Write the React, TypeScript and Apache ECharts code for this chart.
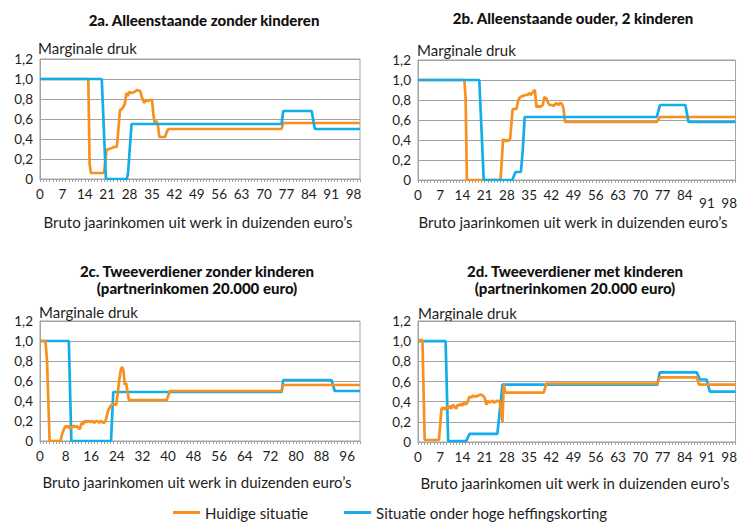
import React, { useEffect, useRef } from 'react';
import * as echarts from 'echarts';

const ORANGE = '#F7901E';
const BLUE = '#13AEEA';
const GRID_COLOR = '#a3a3a3';
const TEXT_COLOR = '#1e1e1e';
const FONT = 'Lato, "Open Sans", sans-serif';

const SERIES_NAMES = ['Huidige situatie', 'Situatie onder hoge heffingskorting'];
const PANEL_TITLES = [
  '2a. Alleenstaande zonder kinderen',
  '2b. Alleenstaande ouder, 2 kinderen',
  '2c. Tweeverdiener zonder kinderen\n(partnerinkomen 20.000 euro)',
  '2d. Tweeverdiener met kinderen\n(partnerinkomen 20.000 euro)',
];
const Y_NAME = 'Marginale druk';
const X_NAME = 'Bruto jaarinkomen uit werk in duizenden euro’s';
const X_INTERVALS = [7, 7, 8, 7];

// 2a. Alleenstaande zonder kinderen
const huidigA: number[][] = [
  [0, 1.0], [15.1, 1.0], [15.5, 0.15], [15.9, 0.06], [20, 0.06], [20.8, 0.29], [21.5, 0.3], [22.6, 0.31],
  [23, 0.32], [24, 0.32], [24.5, 0.5], [25, 0.69], [25.6, 0.7], [26, 0.72], [26.5, 0.75], [27, 0.86],
  [27.4, 0.83], [27.8, 0.87], [28.5, 0.86], [29.5, 0.87], [30.3, 0.89], [31.3, 0.88], [31.8, 0.82],
  [32.2, 0.79], [32.6, 0.76], [33, 0.79], [33.6, 0.78], [34.3, 0.79], [35, 0.79], [35.4, 0.66],
  [35.8, 0.56], [36.3, 0.58], [36.8, 0.55], [37.3, 0.42], [39.1, 0.42], [39.6, 0.47], [40.1, 0.5],
  [75.5, 0.5], [76, 0.56], [100, 0.56],
];
const heffingA: number[][] = [
  [0, 1.0], [19.3, 1.0], [20.6, 0], [27.1, 0], [27.5, 0.05], [28.6, 0.55], [75.5, 0.55], [76, 0.68],
  [84.9, 0.68], [85.9, 0.5], [100, 0.5],
];

// 2b. Alleenstaande ouder, 2 kinderen
const huidigB: number[][] = [
  [0, 1.0], [14.6, 1.0], [15.0, 0.82], [15.4, 0], [26.0, 0], [26.8, 0.41], [27.4, 0.39], [28, 0.4],
  [28.5, 0.39], [29, 0.41], [29.4, 0.55], [29.8, 0.71], [31, 0.71], [31.6, 0.8], [32.2, 0.83], [33, 0.84],
  [33.8, 0.85], [34.5, 0.85], [35, 0.87], [35.5, 0.85], [36.2, 0.88], [36.8, 0.9], [37.3, 0.73],
  [38, 0.74], [38.5, 0.73], [39.3, 0.75], [39.8, 0.83], [40.5, 0.81], [41, 0.77], [41.5, 0.75],
  [42.3, 0.75], [42.8, 0.74], [43.5, 0.77], [44.2, 0.75], [44.8, 0.77], [45.3, 0.76], [45.8, 0.72],
  [46.3, 0.58], [75.2, 0.58], [76.2, 0.63], [100, 0.63],
];
const heffingB: number[][] = [
  [0, 1.0], [19.3, 1.0], [20.7, 0], [29.7, 0], [30.7, 0.08], [32.4, 0.08], [33.0, 0.3], [33.6, 0.63],
  [75.2, 0.63], [76.2, 0.75], [84.2, 0.75], [85.2, 0.58], [100, 0.58],
];

// 2c. Tweeverdiener zonder kinderen
const huidigC: number[][] = [
  [0, 1.0], [1.7, 1.0], [2.2, 0.8], [3.0, 0], [6.4, 0], [7.0, 0.08], [7.5, 0.12], [8, 0.15], [8.5, 0.14],
  [9, 0.15], [9.5, 0.12], [10, 0.14], [10.5, 0.15], [11, 0.14], [11.5, 0.15], [12, 0.13], [12.5, 0.12],
  [13, 0.18], [13.5, 0.17], [14, 0.2], [14.5, 0.19], [15, 0.2], [16, 0.19], [16.5, 0.2], [17, 0.18],
  [17.5, 0.2], [18, 0.2], [18.5, 0.18], [19, 0.2], [19.5, 0.19], [20, 0.18], [20.5, 0.2], [21, 0.27],
  [21.5, 0.32], [22.3, 0.36], [23, 0.37], [23.8, 0.36], [24.3, 0.48], [24.8, 0.62], [25.3, 0.72],
  [25.7, 0.74], [26.1, 0.7], [26.5, 0.56], [26.9, 0.58], [27.3, 0.5], [27.8, 0.41], [39.6, 0.41],
  [40.6, 0.5], [75.5, 0.5], [76, 0.56], [100, 0.56],
];
const heffingC: number[][] = [
  [0, 1.0], [9.0, 1.0], [9.8, 0], [22.2, 0], [22.9, 0.49], [75.5, 0.49], [76, 0.61], [91.1, 0.61],
  [92.1, 0.5], [100, 0.5],
];

// 2d. Tweeverdiener met kinderen
const huidigD: number[][] = [
  [0, 1.01], [1.4, 1.01], [2.1, 0.02], [6.6, 0.02], [7.4, 0.33], [8, 0.34], [8.5, 0.32], [9, 0.35],
  [9.5, 0.33], [10, 0.36], [10.5, 0.33], [11, 0.37], [11.5, 0.35], [12, 0.33], [12.5, 0.37], [13, 0.36],
  [13.5, 0.38], [14, 0.36], [14.5, 0.39], [15, 0.37], [15.5, 0.39], [16.2, 0.45], [16.8, 0.44],
  [17.3, 0.46], [18, 0.45], [19, 0.46], [19.8, 0.47], [20.4, 0.46], [21, 0.44], [21.5, 0.37], [22, 0.41],
  [22.5, 0.39], [23, 0.4], [23.5, 0.41], [24, 0.39], [24.5, 0.4], [25, 0.41], [25.8, 0.4], [26.2, 0.3],
  [26.6, 0.2], [27.0, 0.57], [27.4, 0.5], [27.8, 0.49], [39.6, 0.49], [40.4, 0.58], [75.4, 0.58],
  [76.1, 0.64], [87.8, 0.64], [88.5, 0.57], [100, 0.57],
];
const heffingD: number[][] = [
  [0, 1.0], [8.7, 1.0], [9.5, 0.01], [15.2, 0.01], [16.2, 0.08], [25, 0.08], [26.6, 0.57], [75.4, 0.57],
  [76.1, 0.69], [87.8, 0.69], [88.8, 0.62], [90.9, 0.62], [91.9, 0.5], [100, 0.5],
];

const HUIDIG = [huidigA, huidigB, huidigC, huidigD];
const HEFFING = [heffingA, heffingB, heffingC, heffingD];

// layout (pixels)
const GRIDS = [
  { left: 40, top: 59, width: 320, height: 120 },
  { left: 418, top: 60, width: 320, height: 120 },
  { left: 40, top: 321, width: 320, height: 120 },
  { left: 418, top: 321, width: 320, height: 121 },
];
const TITLE_POS = [[204, 20], [573, 18], [197, 279], [575, 279]];
const YNAME_POS = [[38, 48], [417, 50], [39, 312], [418, 313]];
const XNAME_POS = [[198, 222], [573, 222], [197, 482], [575, 483]];

export default function App() {
  const ref = useRef<HTMLDivElement>(null);

  useEffect(() => {
    if (!ref.current) return;
    const chart = echarts.init(ref.current, undefined, { renderer: 'svg' });

    const yFmt = (v: number) => (Math.abs(v) < 1e-9 ? '0' : v.toFixed(1).replace('.', ','));

    const series: any[] = [];
    for (let i = 0; i < 4; i++) {
      const orange = {
        name: SERIES_NAMES[0], type: 'line', xAxisIndex: i, yAxisIndex: i, data: HUIDIG[i],
        showSymbol: false, symbol: 'none', lineStyle: { color: ORANGE, width: 2.7 }, itemStyle: { color: ORANGE },
      };
      const blue = {
        name: SERIES_NAMES[1], type: 'line', xAxisIndex: i, yAxisIndex: i, data: HEFFING[i],
        showSymbol: false, symbol: 'none', lineStyle: { color: BLUE, width: 2.7 }, itemStyle: { color: BLUE },
      };
      if (i < 2) series.push(orange, blue);
      else series.push(blue, orange);
    }

    const graphic: any[] = [];
    for (let i = 0; i < 4; i++) {
      graphic.push({
        type: 'text', x: TITLE_POS[i][0], y: TITLE_POS[i][1],
        style: {
          text: PANEL_TITLES[i], fill: '#111', fontFamily: FONT, fontWeight: 900, fontSize: 15,
          lineHeight: 17, align: 'center', verticalAlign: 'middle',
        },
      });
      graphic.push({
        type: 'text', x: YNAME_POS[i][0], y: YNAME_POS[i][1],
        style: { text: Y_NAME, fill: TEXT_COLOR, fontFamily: FONT, fontSize: 15, align: 'left', verticalAlign: 'middle' },
      });
      graphic.push({
        type: 'text', x: XNAME_POS[i][0], y: XNAME_POS[i][1],
        style: { text: X_NAME, fill: TEXT_COLOR, fontFamily: FONT, fontSize: 15, align: 'center', verticalAlign: 'middle' },
      });
    }

    chart.setOption({
      animation: false,
      backgroundColor: '#ffffff',
      textStyle: { fontFamily: FONT },
      grid: GRIDS.map((g) => ({ ...g, show: true, borderColor: GRID_COLOR, borderWidth: 1, containLabel: false })),
      xAxis: GRIDS.map((_, i) => ({
        type: 'value', gridIndex: i, min: 0, max: 100, interval: X_INTERVALS[i],
        axisLine: { show: true, lineStyle: { color: GRID_COLOR, width: 1 } },
        axisTick: { show: true, length: 3, lineStyle: { color: GRID_COLOR } },
        minorTick: { show: true, splitNumber: X_INTERVALS[i], length: 3, lineStyle: { color: GRID_COLOR } },
        splitLine: { show: false },
        axisLabel: {
          showMaxLabel: false, fontSize: 13.5, color: TEXT_COLOR, fontFamily: FONT, margin: 8,
          formatter: i === 1 ? (v: number) => (v > 86 ? `{low|${v}}` : `${v}`) : (v: number) => `${v}`,
          rich: { low: { padding: [8, 0, 0, 0], fontSize: 13.5, color: TEXT_COLOR, fontFamily: FONT } },
        },
      })),
      yAxis: GRIDS.map((_, i) => ({
        type: 'value', gridIndex: i, min: 0, max: 1.2, interval: 0.2,
        axisLine: { show: true, lineStyle: { color: GRID_COLOR, width: 1 } },
        axisTick: { show: false },
        splitLine: { show: true, lineStyle: { color: GRID_COLOR, width: 1 } },
        axisLabel: { fontSize: 13.5, color: TEXT_COLOR, fontFamily: FONT, margin: 7, formatter: yFmt },
      })),
      legend: {
        data: SERIES_NAMES, top: 500, left: 168, icon: 'rect', itemWidth: 27, itemHeight: 3, itemGap: 36,
        textStyle: { fontSize: 15, color: TEXT_COLOR, fontFamily: FONT },
      },
      graphic,
      series,
    });

    return () => chart.dispose();
  }, []);

  return <div ref={ref} style={{ position: 'absolute', left: 0, top: 0, width: 740, height: 522 }} />;
}
